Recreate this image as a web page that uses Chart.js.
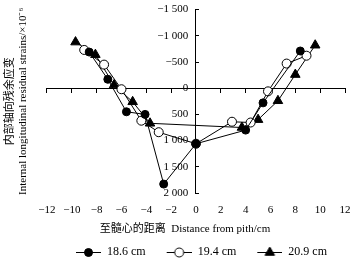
<!DOCTYPE html>
<html>
<head>
<meta charset="utf-8">
<script src="https://cdn.jsdelivr.net/npm/chart.js@4.4.0/dist/chart.umd.min.js"></script>
<style>
html, body { margin: 0; padding: 0; background: #fff; }
#wrap { width: 361px; height: 266px; }
</style>
</head>
<body>
<div id="wrap"><canvas id="strainChart"></canvas></div>
<script>
// distance from pith (cm) and residual strain (x10^-6), one pair of arrays per log diameter
var dist186 = [-8.6, -7.1, -5.6, -4.1, -2.6, 0, 4.0, 5.4, 8.4];
var strain186 = [-690, -170, 450, 500, 1830, 1060, 800, 280, -710];
var dist194 = [-9.0, -7.4, -6.0, -4.4, -3.0, 0, 2.9, 4.4, 5.8, 7.3, 8.9];
var strain194 = [-730, -450, 20, 620, 840, 1060, 640, 655, 60, -470, -620];
var dist209 = [-9.7, -8.1, -6.6, -5.1, -3.7, 3.7, 5.0, 6.6, 8.0, 9.6];
var strain209 = [-880, -640, -60, 260, 670, 750, 600, 240, -260, -820];
var seriesNames = ['18.6 cm', '19.4 cm', '20.9 cm'];

var xTickValues = [-12, -10, -8, -6, -4, -2, 0, 2, 4, 6, 8, 10, 12];
var xTickLabels = ['\u221212', '\u221210', '\u22128', '\u22126', '\u22124', '\u22122', '0', '2', '4', '6', '8', '10', '12'];
var yTickValues = [-1500, -1000, -500, 0, 500, 1000, 1500, 2000];
var yTickLabels = ['\u22121 500', '\u22121 000', '\u2212500', '0', '500', '1 000', '1 500', '2 000'];

var serif = "'Liberation Serif', 'Noto Sans CJK SC', serif";
Chart.defaults.font.family = serif;
Chart.defaults.color = '#000';

function pairs(xs, ys) {
    return xs.map(function (x, i) { return { x: x, y: ys[i] }; });
}

// legend glyph: short line with the marker in its middle
function legendIcon(kind, fill, r) {
    var c = document.createElement('canvas');
    c.width = 36;
    c.height = 12;
    var g = c.getContext('2d');
    g.strokeStyle = '#000';
    g.lineWidth = 1;
    g.beginPath();
    g.moveTo(11, 6.5);
    g.lineTo(36, 6.5);
    g.stroke();
    g.fillStyle = fill;
    g.beginPath();
    if (kind == 'triangle') {
        g.moveTo(23.5, 6.5 - r);
        g.lineTo(23.5 + 0.866 * r, 6.5 + 0.5 * r);
        g.lineTo(23.5 - 0.866 * r, 6.5 + 0.5 * r);
        g.closePath();
    } else {
        g.arc(23.5, 6.5, r, 0, Math.PI * 2);
    }
    g.fill();
    g.stroke();
    return c;
}
var icons = [
    legendIcon('circle', '#000', 4),
    legendIcon('circle', '#fff', 4.5),
    legendIcon('triangle', '#000', 5.5)
];

var ctx = document.getElementById('strainChart');
var myChart = new Chart(ctx, {
    type: 'scatter',
    data: {
        datasets: [
            {
                label: seriesNames[0],
                data: pairs(dist186, strain186),
                showLine: true,
                borderColor: '#000',
                borderWidth: 1,
                pointStyle: 'circle',
                pointRadius: 4,
                pointBackgroundColor: '#000',
                pointBorderColor: '#000',
                pointBorderWidth: 1,
            },
            {
                label: seriesNames[1],
                data: pairs(dist194, strain194),
                showLine: true,
                borderColor: '#000',
                borderWidth: 1,
                pointStyle: 'circle',
                pointRadius: 4.5,
                pointBackgroundColor: '#fff',
                pointBorderColor: '#000',
                pointBorderWidth: 1,
            },
            {
                label: seriesNames[2],
                data: pairs(dist209, strain209),
                showLine: true,
                borderColor: '#000',
                borderWidth: 1,
                pointStyle: 'triangle',
                pointRadius: 5.5,
                pointBackgroundColor: '#000',
                pointBorderColor: '#000',
                pointBorderWidth: 1,
            },
        ]
    },
    options: {
        responsive: true,
        maintainAspectRatio: false,
        animation: false,
        layout: {
            padding: { left: 0, right: 14, top: 6, bottom: -2 }
        },
        plugins: {
            tooltip: { enabled: false },
            legend: {
                position: 'bottom',
                fullSize: false,
                labels: {
                    usePointStyle: true,
                    pointStyleWidth: 36,
                    padding: 10,
                    color: '#000',
                    font: { size: 12, family: serif },
                    generateLabels: function (chart) {
                        return seriesNames.map(function (name, i) {
                            return {
                                text: name,
                                pointStyle: icons[i],
                                fillStyle: '#000',
                                strokeStyle: '#000',
                                lineWidth: 0,
                                hidden: false,
                                datasetIndex: i,
                                fontColor: '#000'
                            };
                        });
                    }
                }
            }
        },
        scales: {
            x: {
                type: 'linear',
                position: { y: 0 },
                min: -12,
                max: 12,
                ticks: { display: false, stepSize: 2 },
                grid: { drawOnChartArea: false, color: '#000', tickLength: 4 },
                border: { color: '#000', width: 1 }
            },
            y: {
                type: 'linear',
                position: { x: 0 },
                reverse: true,
                min: -1500,
                max: 2000,
                ticks: {
                    stepSize: 500,
                    font: { size: 11 },
                    color: '#000',
                    callback: function (value) {
                        var i = yTickValues.indexOf(value);
                        return i < 0 ? '' : yTickLabels[i] + '\u2002\u2009';
                    }
                },
                grid: { drawOnChartArea: false, color: '#000', tickLength: -4 },
                border: { color: '#000', width: 1 }
            },
            xb: {
                type: 'linear',
                position: 'bottom',
                min: -12,
                max: 12,
                ticks: {
                    stepSize: 2,
                    maxRotation: 0,
                    autoSkip: false,
                    padding: 10.5,
                    font: { size: 11, lineHeight: 1.15 },
                    color: '#000',
                    callback: function (value) {
                        var i = xTickValues.indexOf(value);
                        return i < 0 ? '' : xTickLabels[i];
                    }
                },
                grid: { display: false, drawTicks: false },
                border: { display: false },
                title: {
                    display: true,
                    text: '\u81f3\u9ad3\u5fc3\u7684\u8ddd\u79bb  Distance from pith/cm\u2003\u2003',
                    font: { size: 11, lineHeight: 1.15 },
                    color: '#000',
                    padding: { top: -4, bottom: 0.7 }
                }
            },
            yt: {
                type: 'linear',
                position: 'left',
                ticks: { display: false },
                grid: { display: false, drawTicks: false },
                border: { display: false },
                title: {
                    display: true,
                    text: ['\u5185\u90e8\u8f74\u5411\u6b8b\u4f59\u5e94\u53d8', 'Internal longitudinal residual strains/\u00d710\u207b\u2076'],
                    font: { size: 11, lineHeight: 1.18 },
                    color: '#000',
                    padding: { top: 4, bottom: 17 }
                }
            }
        }
    }
});
myChart.update();
</script>
</body>
</html>
